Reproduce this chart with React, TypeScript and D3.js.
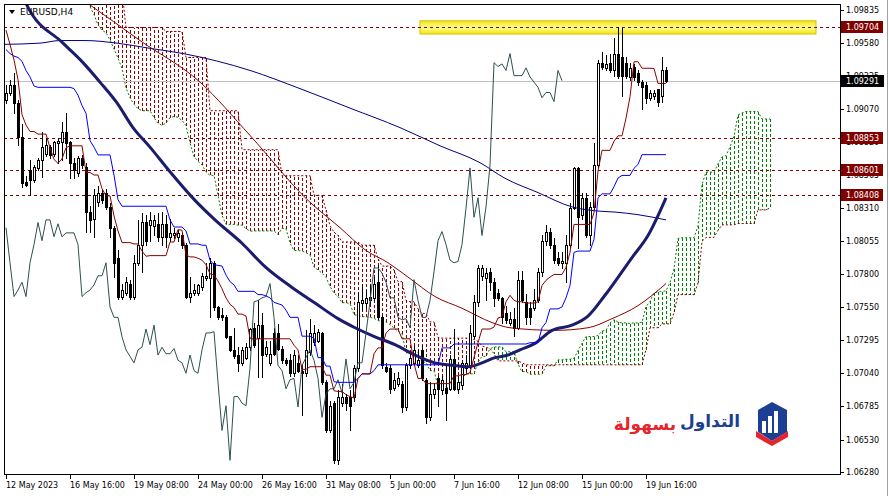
import React from "react";
import * as d3 from "d3";

// [open, high, low, close] per H4 bar, bar 0 = 12 May 2023 00:00
const ohlc: [number, number, number, number][] = [
  [1.0914, 1.0926, 1.0912, 1.0920], [1.0920, 1.0930, 1.0918, 1.0926], [1.0926, 1.0935, 1.0904, 1.0912],
  [1.0912, 1.0914, 1.0880, 1.0886], [1.0886, 1.0896, 1.0847, 1.0850], [1.0851, 1.0856, 1.0848, 1.0849],
  [1.0860, 1.0868, 1.0841, 1.0853], [1.0853, 1.0864, 1.0851, 1.0863], [1.0862, 1.0870, 1.0860, 1.0868],
  [1.0868, 1.0890, 1.0855, 1.0878], [1.0873, 1.0885, 1.0871, 1.0880], [1.0878, 1.0880, 1.0870, 1.0872],
  [1.0873, 1.0883, 1.0871, 1.0882], [1.0881, 1.0885, 1.0866, 1.0883], [1.0882, 1.0897, 1.0868, 1.0890],
  [1.0890, 1.0904, 1.0870, 1.0881], [1.0882, 1.0883, 1.0854, 1.0866], [1.0866, 1.0870, 1.0854, 1.0860],
  [1.0858, 1.0871, 1.0856, 1.0870], [1.0870, 1.0872, 1.0862, 1.0864], [1.0863, 1.0866, 1.0813, 1.0828],
  [1.0828, 1.0833, 1.0813, 1.0822], [1.0823, 1.0846, 1.0809, 1.0841], [1.0836, 1.0848, 1.0833, 1.0843],
  [1.0843, 1.0845, 1.0835, 1.0837], [1.0843, 1.0846, 1.0830, 1.0832], [1.0832, 1.0835, 1.0809, 1.0816],
  [1.0816, 1.0817, 1.0778, 1.0789], [1.0793, 1.0799, 1.0761, 1.0763], [1.0763, 1.0773, 1.0761, 1.0768],
  [1.0766, 1.0778, 1.0764, 1.0774], [1.0773, 1.0776, 1.0761, 1.0763], [1.0763, 1.0795, 1.0761, 1.0789],
  [1.0789, 1.0822, 1.0787, 1.0803], [1.0803, 1.0827, 1.0782, 1.0820], [1.0820, 1.0826, 1.0803, 1.0806],
  [1.0818, 1.0828, 1.0806, 1.0822], [1.0817, 1.0826, 1.0810, 1.0822], [1.0819, 1.0827, 1.0806, 1.0809],
  [1.0809, 1.0828, 1.0803, 1.0819], [1.0819, 1.0826, 1.0801, 1.0809], [1.0809, 1.0823, 1.0806, 1.0812],
  [1.0810, 1.0816, 1.0808, 1.0812], [1.0809, 1.0814, 1.0806, 1.0812], [1.0810, 1.0812, 1.0800, 1.0803],
  [1.0803, 1.0804, 1.0762, 1.0763], [1.0763, 1.0778, 1.0759, 1.0766], [1.0766, 1.0773, 1.0764, 1.0768],
  [1.0766, 1.0773, 1.0764, 1.0772], [1.0770, 1.0781, 1.0768, 1.0779], [1.0777, 1.0789, 1.0776, 1.0779],
  [1.0777, 1.0793, 1.0747, 1.0789], [1.0789, 1.0790, 1.0753, 1.0755], [1.0755, 1.0756, 1.0746, 1.0747],
  [1.0749, 1.0754, 1.0745, 1.0747], [1.0747, 1.0749, 1.0731, 1.0732], [1.0733, 1.0733, 1.0721, 1.0722],
  [1.0722, 1.0739, 1.0716, 1.0717], [1.0718, 1.0724, 1.0706, 1.0712], [1.0712, 1.0724, 1.0710, 1.0722],
  [1.0716, 1.0727, 1.0715, 1.0724], [1.0724, 1.0739, 1.0722, 1.0738], [1.0739, 1.0743, 1.0724, 1.0726],
  [1.0731, 1.0760, 1.0701, 1.0741], [1.0741, 1.0750, 1.0701, 1.0718], [1.0719, 1.0729, 1.0717, 1.0724],
  [1.0712, 1.0729, 1.0710, 1.0719], [1.0735, 1.0739, 1.0718, 1.0719], [1.0735, 1.0742, 1.0722, 1.0723],
  [1.0723, 1.0725, 1.0712, 1.0714], [1.0714, 1.0716, 1.0710, 1.0712], [1.0714, 1.0719, 1.0702, 1.0704],
  [1.0704, 1.0722, 1.0702, 1.0718], [1.0712, 1.0718, 1.0705, 1.0706], [1.0706, 1.0710, 1.0672, 1.0704],
  [1.0704, 1.0737, 1.0702, 1.0722], [1.0720, 1.0746, 1.0718, 1.0735], [1.0728, 1.0741, 1.0726, 1.0735],
  [1.0729, 1.0738, 1.0728, 1.0736], [1.0735, 1.0736, 1.0696, 1.0697], [1.0697, 1.0699, 1.0659, 1.0660],
  [1.0660, 1.0683, 1.0659, 1.0679], [1.0681, 1.0683, 1.0635, 1.0637], [1.0637, 1.0691, 1.0634, 1.0686],
  [1.0681, 1.0696, 1.0679, 1.0686], [1.0686, 1.0688, 1.0676, 1.0681], [1.0686, 1.0691, 1.0660, 1.0679],
  [1.0686, 1.0710, 1.0683, 1.0708], [1.0708, 1.0766, 1.0706, 1.0759], [1.0758, 1.0773, 1.0753, 1.0760],
  [1.0758, 1.0768, 1.0754, 1.0762], [1.0760, 1.0772, 1.0758, 1.0763], [1.0762, 1.0778, 1.0760, 1.0773],
  [1.0774, 1.0787, 1.0746, 1.0747], [1.0747, 1.0749, 1.0708, 1.0710], [1.0709, 1.0712, 1.0705, 1.0706],
  [1.0708, 1.0710, 1.0689, 1.0692], [1.0693, 1.0704, 1.0691, 1.0699], [1.0696, 1.0705, 1.0694, 1.0700],
  [1.0696, 1.0698, 1.0674, 1.0678], [1.0678, 1.0712, 1.0676, 1.0710], [1.0710, 1.0720, 1.0708, 1.0716],
  [1.0712, 1.0726, 1.0710, 1.0722], [1.0710, 1.0722, 1.0709, 1.0714], [1.0722, 1.0726, 1.0699, 1.0700],
  [1.0699, 1.0700, 1.0666, 1.0670], [1.0670, 1.0697, 1.0668, 1.0688], [1.0688, 1.0696, 1.0685, 1.0692],
  [1.0700, 1.0702, 1.0679, 1.0692], [1.0691, 1.0702, 1.0688, 1.0699], [1.0693, 1.0710, 1.0668, 1.0689],
  [1.0692, 1.0718, 1.0691, 1.0715], [1.0715, 1.0738, 1.0691, 1.0692], [1.0692, 1.0702, 1.0689, 1.0697],
  [1.0695, 1.0714, 1.0692, 1.0712], [1.0708, 1.0718, 1.0706, 1.0712], [1.0710, 1.0741, 1.0708, 1.0735],
  [1.0733, 1.0764, 1.0731, 1.0759], [1.0759, 1.0787, 1.0756, 1.0785], [1.0779, 1.0787, 1.0776, 1.0785],
  [1.0777, 1.0785, 1.0760, 1.0781], [1.0782, 1.0785, 1.0768, 1.0774], [1.0774, 1.0777, 1.0756, 1.0762],
  [1.0766, 1.0769, 1.0760, 1.0762], [1.0762, 1.0763, 1.0743, 1.0747], [1.0750, 1.0756, 1.0743, 1.0745],
  [1.0743, 1.0751, 1.0741, 1.0746], [1.0746, 1.0754, 1.0733, 1.0739], [1.0739, 1.0783, 1.0738, 1.0776],
  [1.0776, 1.0783, 1.0759, 1.0760], [1.0759, 1.0765, 1.0742, 1.0747], [1.0754, 1.0759, 1.0742, 1.0747],
  [1.0754, 1.0769, 1.0753, 1.0760], [1.0760, 1.0785, 1.0759, 1.0782], [1.0782, 1.0810, 1.0779, 1.0806],
  [1.0806, 1.0818, 1.0803, 1.0813], [1.0813, 1.0816, 1.0800, 1.0803], [1.0803, 1.0808, 1.0789, 1.0791],
  [1.0793, 1.0797, 1.0787, 1.0789], [1.0789, 1.0797, 1.0785, 1.0790], [1.0789, 1.0810, 1.0774, 1.0803],
  [1.0803, 1.0835, 1.0801, 1.0831], [1.0831, 1.0863, 1.0830, 1.0862], [1.0862, 1.0863, 1.0800, 1.0824],
  [1.0826, 1.0843, 1.0823, 1.0839], [1.0839, 1.0843, 1.0809, 1.0810], [1.0810, 1.0836, 1.0803, 1.0832],
  [1.0832, 1.0881, 1.0830, 1.0864], [1.0864, 1.0945, 1.0863, 1.0943], [1.0943, 1.0951, 1.0938, 1.0940],
  [1.0939, 1.0949, 1.0937, 1.0942], [1.0943, 1.0950, 1.0936, 1.0937], [1.0937, 1.0962, 1.0933, 1.0950],
  [1.0950, 1.09704, 1.0931, 1.0933], [1.0947, 1.0970, 1.0917, 1.0933], [1.0943, 1.0947, 1.0931, 1.0933],
  [1.0932, 1.0943, 1.0930, 1.0939], [1.0940, 1.0942, 1.0930, 1.0932], [1.0935, 1.0937, 1.0926, 1.0928],
  [1.0928, 1.0930, 1.0907, 1.0924], [1.0926, 1.0928, 1.0912, 1.0916], [1.0916, 1.0922, 1.0914, 1.0920],
  [1.0917, 1.0922, 1.0915, 1.0920], [1.0923, 1.0923, 1.0910, 1.0913], [1.0917, 1.0947, 1.0913, 1.0937],
  [1.0937, 1.0940, 1.0928, 1.09291],
];

// Ichimoku values for the first bars (their history is off the picture)
const tenkanLead = [1.0968, 1.0957, 1.0945, 1.0930, 1.0903, 1.0895, 1.0890, 1.0890];
const kijunLead = [1.0953, 1.0950, 1.0948, 1.0947, 1.0944, 1.0937, 1.0932, 1.0925, 1.0924, 1.0924, 1.0924,
  1.0924, 1.0924, 1.0924, 1.0924, 1.0924, 1.0924, 1.0923, 1.0918, 1.0910, 1.0904, 1.0883, 1.0878, 1.0872, 1.0872];
const spanALead = [1.1000, 1.1000, 1.1000, 1.1000, 1.1000, 1.1000, 1.1000, 1.1000, 1.1000, 1.1000, 1.1000,
  1.1000, 1.1000, 1.1000, 1.1000, 1.1000, 1.1000, 1.1000, 1.1000, 1.1000, 1.0991, 1.0986, 1.0980, 1.0972,
  1.0968, 1.0966];
const spanBLeadSteps: [number, number][] = [[0, 1.0999], [30, 1.0970], [40, 1.0967], [45, 1.0947],
  [51, 1.0906], [59, 1.0876], [69, 1.0856]];

// moving averages: [bar, price]
const maThick: [number, number][] = [[3.5, 1.0999], [5.25, 1.0987], [14.25, 1.0958], [19.25, 1.0943],
  [23.5, 1.0928], [27.75, 1.0912], [31.75, 1.0893], [36, 1.0878], [41, 1.0859], [47.25, 1.0837],
  [52.25, 1.0822], [59, 1.0804], [64.75, 1.0786], [71.5, 1.0770], [77.25, 1.0758], [83, 1.0746],
  [87.25, 1.0739], [92.25, 1.0732], [97.25, 1.0726], [102.25, 1.0718], [107.25, 1.0712], [112.25, 1.0710],
  [115.5, 1.0709], [119, 1.0712], [122.25, 1.0716], [125.5, 1.0718], [128.5, 1.0722], [132.25, 1.0727],
  [136.5, 1.0737], [141.5, 1.0741], [145.5, 1.0748], [149.75, 1.0764], [156.5, 1.0793], [160.5, 1.0810],
  [165, 1.0839]];
const maSlow: [number, number][] = [[-1.5, 1.0957], [8.5, 1.0958], [13.5, 1.0960], [19.75, 1.0960],
  [27.75, 1.0958], [36, 1.0954], [44.25, 1.0950], [61, 1.0937], [73.5, 1.0923], [86, 1.0908],
  [98.5, 1.0893], [108.5, 1.0879], [118.5, 1.0866], [124.75, 1.0854], [133, 1.0843], [141.5, 1.0832],
  [147.25, 1.0829], [152.25, 1.0828], [158, 1.0826], [165, 1.0822]];
const maMid: [number, number][] = [[13.5, 1.1003], [20.25, 1.0989], [33.5, 1.0960], [48.5, 1.0928],
  [61, 1.0887], [75.5, 1.0837], [83.5, 1.0816], [89.75, 1.0799], [95.5, 1.0789], [100.5, 1.0778],
  [107.25, 1.0763], [114, 1.0754], [121.5, 1.0743], [126, 1.0739], [137.25, 1.0737], [145.5, 1.0739],
  [151.5, 1.0746], [158, 1.0756], [165, 1.0773]];

const priceTicks = [1.09835, 1.0958, 1.09325, 1.0907, 1.0882, 1.08565, 1.0831, 1.08055, 1.078, 1.0755,
  1.07295, 1.0704, 1.06785, 1.0653, 1.0628];
const timeLabels = ["12 May 2023", "16 May 16:00", "19 May 08:00", "24 May 00:00", "26 May 16:00",
  "31 May 08:00", "5 Jun 00:00", "7 Jun 16:00", "12 Jun 08:00", "15 Jun 00:00", "19 Jun 16:00"];
const timeLabelBars = [0, 16, 32, 48, 64, 80, 96, 112, 128, 144, 160];
const levelLines = [1.09704, 1.08853, 1.08601, 1.08408];
const currentPrice = 1.09291;
const zoneBars = [103.5, 202.5];
const zonePrices = [1.0965, 1.09752];
const symbolTitle = "EURUSD,H4";
const logoWords = ["التداول", "بسهولة"];

const MAROON = "#8b0000";
const GREEN = "#008000";

export default function App() {
  const x = d3.scaleLinear().domain([0, 165]).range([6, 666]);
  const y = d3.scaleLinear().domain([1.0628, 1.09835]).range([472, 10]);
  const L = 4, R = 840, T = 4, B = 474;
  const n = ohlc.length;
  const highs = ohlc.map((d) => d[1]);
  const lows = ohlc.map((d) => d[2]);
  const closes = ohlc.map((d) => d[3]);
  const mid = (i: number, p: number) => {
    const s = Math.max(0, i - p + 1);
    return ((d3.max(highs.slice(s, i + 1)) as number) + (d3.min(lows.slice(s, i + 1)) as number)) / 2;
  };
  const tenkan = d3.range(n).map((i) => (i < 8 ? tenkanLead[i] : mid(i, 9)));
  const kijun = d3.range(n).map((i) => (i < 25 ? kijunLead[i] : mid(i, 26)));
  const stepB = (b: number) => {
    let v = spanBLeadSteps[0][1];
    for (const [s, p] of spanBLeadSteps) if (b >= s) v = p;
    return v;
  };
  const nb = n + 26;
  const spanA = d3.range(nb).map((b) => (b < 26 ? spanALead[b] : (tenkan[b - 26] + kijun[b - 26]) / 2));
  const spanB = d3.range(nb).map((b) => (b < 77 ? stepB(b) : mid(b - 26, 52)));

  const line = d3.line<[number, number]>().x((d) => x(d[0])).y((d) => y(d[1]));
  const smooth = d3.line<[number, number]>().x((d) => x(d[0])).y((d) => y(d[1])).curve(d3.curveMonotoneX);

  const tenkanPts = tenkan.map((v, i) => [i, v] as [number, number]);
  const kijunPts = kijun.map((v, i) => [i, v] as [number, number]);
  const aPts = spanA.map((v, i) => [i, v] as [number, number]);
  const bPts = spanB.map((v, i) => [i, v] as [number, number]);
  const chikou = d3.range(26, n).map((i) => [i - 26, closes[i]] as [number, number]);

  const font = "'DejaVu Sans', Verdana, sans-serif";

  return (
    <svg width={889} height={496} style={{ position: "absolute", left: 0, top: 0, background: "#fff" }}>
      <defs>
        <clipPath id="plot">
          <rect x={L} y={T} width={R - L} height={B - T} />
        </clipPath>
        <linearGradient id="zoneGrad" x1="0" y1="0" x2="0" y2="1">
          <stop offset="0" stopColor="#f3e21a" />
          <stop offset="0.5" stopColor="#ffff8a" />
          <stop offset="1" stopColor="#f3e21a" />
        </linearGradient>
      </defs>
      <rect x={0} y={0} width={889} height={496} fill="#fff" />
      <g clipPath="url(#plot)">
        {/* cloud hatch */}
        <g shapeRendering="crispEdges">
          {spanA.map((a, b) => (
            <line
              key={"h" + b}
              x1={Math.round(x(b)) + 0.5}
              x2={Math.round(x(b)) + 0.5}
              y1={y(a)}
              y2={y(spanB[b])}
              stroke={a >= spanB[b] ? GREEN : MAROON}
              strokeDasharray="3,2"
            />
          ))}
        </g>
        <path d={line(aPts) || ""} fill="none" stroke={GREEN} strokeDasharray="2,2" />
        <path d={line(bPts) || ""} fill="none" stroke={MAROON} strokeDasharray="2,2" />

        {/* yellow zone */}
        <rect
          x={x(zoneBars[0])}
          y={y(zonePrices[1])}
          width={x(zoneBars[1]) - x(zoneBars[0])}
          height={y(zonePrices[0]) - y(zonePrices[1])}
          fill="url(#zoneGrad)"
          stroke="#d8c400"
        />

        {/* horizontal levels */}
        <g shapeRendering="crispEdges">
          <line x1={L} x2={R} y1={Math.round(y(currentPrice)) + 0.5} y2={Math.round(y(currentPrice)) + 0.5} stroke="#c0c0c0" />
          {levelLines.map((p) => (
            <line key={p} x1={L} x2={R} y1={Math.round(y(p)) + 0.5} y2={Math.round(y(p)) + 0.5} stroke="#800000" strokeDasharray="3,3" />
          ))}
        </g>

        {/* candles */}
        <g shapeRendering="crispEdges">
          {ohlc.map(([o, h, l, c], i) => {
            const xc = Math.round(x(i));
            const yO = Math.round(y(o)), yC = Math.round(y(c));
            const top = Math.min(yO, yC), bot = Math.max(yO, yC);
            return (
              <g key={"c" + i}>
                <line x1={xc + 0.5} x2={xc + 0.5} y1={Math.round(y(h))} y2={Math.round(y(l)) + 1} stroke="#000" />
                {bot - top < 1 ? (
                  <line x1={xc - 1} x2={xc + 2} y1={top + 0.5} y2={top + 0.5} stroke="#000" />
                ) : (
                  <rect x={xc - 0.5} y={top + 0.5} width={2} height={bot - top} fill={c >= o ? "#fff" : "#000"} stroke="#000" />
                )}
              </g>
            );
          })}
        </g>

        {/* moving averages and ichimoku lines */}
        <path d={smooth(maSlow) || ""} fill="none" stroke="#000080" strokeWidth={1} />
        <path d={smooth(maMid) || ""} fill="none" stroke={MAROON} strokeWidth={1} />
        <path d={smooth(maThick) || ""} fill="none" stroke="#1c1c6e" strokeWidth={3} />
        <path d={line(chikou) || ""} fill="none" stroke="#2f4f4f" strokeWidth={1} />
        <path d={line(kijunPts) || ""} fill="none" stroke="#0000ff" strokeWidth={1} />
        <path d={line(tenkanPts) || ""} fill="none" stroke={MAROON} strokeWidth={1} />

        {/* logo */}
        <g>
          <text x={710} y={427} textAnchor="middle" fontFamily={font} fontWeight="bold" fontSize={17} fill="#1c3f94">
            {logoWords[0]}
          </text>
          <text x={645} y={430} textAnchor="middle" fontFamily={font} fontWeight="bold" fontSize={17} fill="#e4262c">
            {logoWords[1]}
          </text>
          <path d="M758,410 L772,402 L787,410 L787,432 L772,441 L758,432 Z" fill="#1c3f94" />
          <rect x={762} y={421} width={4} height={12} fill="#fff" />
          <rect x={768} y={416} width={4} height={17} fill="#fff" />
          <rect x={774} y={411} width={4} height={22} fill="#fff" />
          <path d="M756,431 L772,441 L788,431 L788,437 L772,446 L756,437 Z" fill="#e4262c" />
        </g>
      </g>

      {/* frame */}
      <g shapeRendering="crispEdges" stroke="#000" fill="none">
        <line x1={L + 0.5} x2={L + 0.5} y1={T} y2={B + 1} />
        <line x1={L} x2={R + 1} y1={T + 0.5} y2={T + 0.5} />
        <line x1={R + 0.5} x2={R + 0.5} y1={T} y2={B + 1} />
        <line x1={L} x2={R + 1} y1={B + 0.5} y2={B + 0.5} />
        <line x1={887.5} x2={887.5} y1={0} y2={496} stroke="#a0a0a0" />
      </g>

      {/* title */}
      <path d="M9,10 L15,10 L12,14 Z" fill="#000" />
      <text x={20} y={15} fontFamily={font} fontSize={9} fill="#000">{symbolTitle}</text>

      {/* price axis */}
      <g fontFamily={font} fontSize={8} fill="#000">
        {priceTicks.map((p) => (
          <g key={p}>
            <line x1={R} x2={R + 4} y1={Math.round(y(p)) + 0.5} y2={Math.round(y(p)) + 0.5} stroke="#000" shapeRendering="crispEdges" />
            <text x={846} y={y(p) + 3}>{p.toFixed(5)}</text>
          </g>
        ))}
        {levelLines.map((p) => (
          <g key={"m" + p}>
            <rect x={841} y={Math.round(y(p)) - 6} width={42} height={12} fill="#800000" />
            <text x={846} y={y(p) + 3} fill="#fff">{p.toFixed(5)}</text>
          </g>
        ))}
        <rect x={841} y={Math.round(y(currentPrice)) - 6} width={43} height={12} fill="#000" />
        <text x={846} y={y(currentPrice) + 3} fill="#fff">{currentPrice.toFixed(5)}</text>
      </g>

      {/* time axis */}
      <g fontFamily={font} fontSize={8} fill="#000">
        {timeLabels.map((t, k) => {
          const xt = Math.round(x(timeLabelBars[k]));
          return (
            <g key={t}>
              <line x1={xt + 0.5} x2={xt + 0.5} y1={B} y2={B + 5} stroke="#000" shapeRendering="crispEdges" />
              <text x={xt} y={488}>{t}</text>
            </g>
          );
        })}
      </g>
    </svg>
  );
}
